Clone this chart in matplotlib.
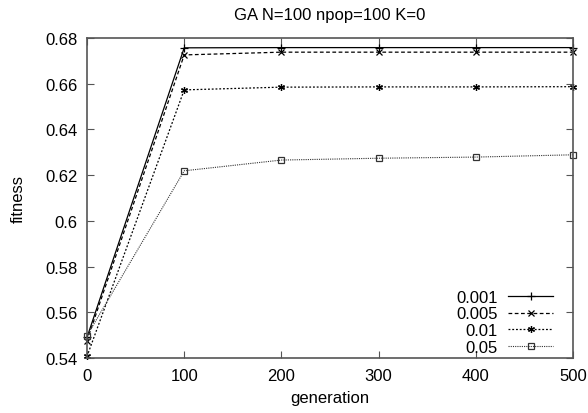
import matplotlib
matplotlib.use("Agg")
import matplotlib.pyplot as plt

plt.rcParams['font.family'] = ['Liberation Sans', 'DejaVu Sans']

generations = [0, 100, 200, 300, 400, 500]
labels = ["0.001", "0.005", "0.01", "0.05"]
fit_0001 = [0.5490, 0.6757, 0.6758, 0.6758, 0.6758, 0.6758]
fit_0005 = [0.5476, 0.6726, 0.6738, 0.6738, 0.6738, 0.6738]
fit_001 = [0.5407, 0.6573, 0.6585, 0.6586, 0.6586, 0.6587]
fit_005 = [0.5498, 0.6219, 0.6266, 0.6274, 0.6279, 0.6289]

xticks = [0, 100, 200, 300, 400, 500]
yticks = [0.54, 0.56, 0.58, 0.6, 0.62, 0.64, 0.66, 0.68]
ytick_labels = ["0.54", "0.56", "0.58", "0.6", "0.62", "0.64", "0.66", "0.68"]

fig = plt.figure(figsize=(5.88, 4.14), dpi=100)
ax = fig.add_axes([87 / 588, 1 - 359 / 414, (573 - 87) / 588, (359 - 39) / 414])

styles = [
    dict(ls='-', marker='+', ms=6, color='black', lw=0.9),
    dict(ls=(0, (3, 2)), marker='x', ms=4.5, color='black', lw=0.9),
    dict(ls=(0, (1.5, 1.5)), marker=(6, 2, 0), ms=5, color='black', lw=0.9),
    dict(ls=(0, (1, 1)), marker='s', ms=4.5, mfc='none', color='#333333', lw=0.8),
]
series = [fit_0001, fit_0005, fit_001, fit_005]
for vals, lab, st in zip(series, labels, styles):
    ax.plot(generations, vals, label=lab, mew=0.9, clip_on=False, **st)

ax.set_xlim(0, 500)
ax.set_ylim(0.54, 0.68)
ax.set_xticks(xticks)
ax.set_yticks(yticks)
ax.set_yticklabels(ytick_labels)
ax.tick_params(direction='in', top=True, right=True, length=5, width=0.8,
               labelsize=12, pad=7, colors='#555555', labelcolor='black')
for sp in ax.spines.values():
    sp.set_color('#555555')
    sp.set_linewidth(1.2)

ax.set_title("GA N=100 npop=100 K=0", fontsize=12, pad=14)
ax.set_xlabel("generation", fontsize=12, labelpad=5)
ax.set_ylabel("fitness", fontsize=12)
ax.yaxis.set_label_coords(-0.127, 0.5)

leg = ax.legend(loc='lower right', bbox_to_anchor=(0.959, 0.01), frameon=False,
                markerfirst=False, fontsize=12, handlelength=2.7, handletextpad=0.6,
                labelspacing=0.1, borderaxespad=0, borderpad=0)
for t in leg.get_texts():
    t.set_ha('right')

fig.savefig("out.png", dpi=100)
